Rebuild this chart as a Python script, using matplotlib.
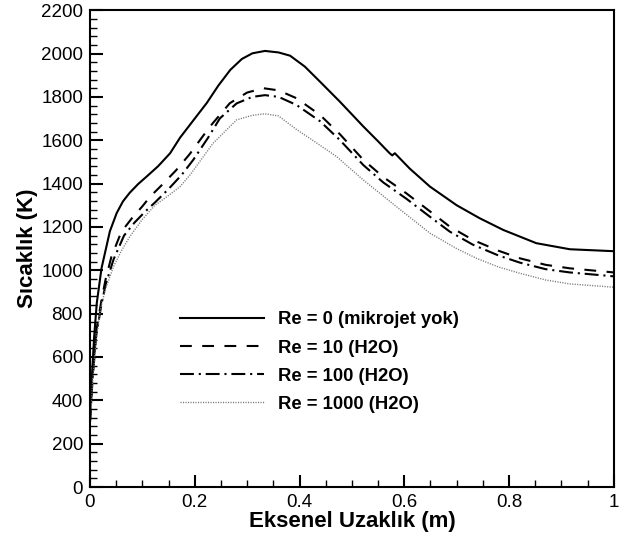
import matplotlib
matplotlib.use("Agg")
import matplotlib.pyplot as plt
from matplotlib.ticker import MultipleLocator, FuncFormatter

plt.rcParams['font.family'] = ['Liberation Sans', 'DejaVu Sans']
plt.rcParams['lines.scale_dashes'] = False

# --- data ---
x_re0 = [0, 0.003, 0.008, 0.013, 0.022, 0.038, 0.051, 0.063, 0.076, 0.092, 0.108, 0.13, 0.153,
         0.172, 0.2, 0.223, 0.245, 0.268, 0.29, 0.31, 0.334, 0.36, 0.382, 0.41, 0.44, 0.477,
         0.522, 0.55, 0.572, 0.577, 0.582, 0.61, 0.649, 0.7, 0.744, 0.789, 0.852, 0.916, 1.0]
t_re0 = [320, 480, 694, 849, 1009, 1180, 1264, 1318, 1358, 1398, 1432, 1480, 1540,
         1612, 1700, 1772, 1852, 1925, 1975, 2001, 2012, 2005, 1990, 1940, 1868, 1778,
         1663, 1595, 1540, 1530, 1540, 1470, 1386, 1300, 1240, 1186, 1125, 1097, 1088]

x_re10 = [0, 0.005, 0.012, 0.022, 0.03, 0.041, 0.06, 0.08, 0.1, 0.115, 0.14, 0.165, 0.19,
          0.229, 0.267, 0.3, 0.331, 0.36, 0.394, 0.439, 0.477, 0.522, 0.56, 0.604, 0.65,
          0.687, 0.731, 0.78, 0.821, 0.87, 0.916, 1.0]
t_re10 = [300, 520, 720, 863, 960, 1063, 1178, 1240, 1295, 1340, 1400, 1463, 1535,
          1663, 1771, 1820, 1840, 1830, 1794, 1717, 1628, 1509, 1430, 1355, 1270,
          1201, 1140, 1090, 1055, 1025, 1009, 990]

x_re100 = [0, 0.005, 0.012, 0.022, 0.03, 0.045, 0.065, 0.085, 0.105, 0.125, 0.15, 0.175, 0.197,
           0.225, 0.248, 0.28, 0.31, 0.334, 0.36, 0.394, 0.439, 0.477, 0.522, 0.56, 0.604,
           0.65, 0.687, 0.731, 0.78, 0.821, 0.87, 0.916, 1.0]
t_re100 = [300, 500, 700, 845, 935, 1050, 1160, 1220, 1270, 1315, 1375, 1440, 1509,
           1610, 1701, 1770, 1800, 1808, 1800, 1763, 1688, 1601, 1485, 1405, 1330,
           1245, 1178, 1118, 1068, 1035, 1005, 990, 972]

x_re1000 = [0, 0.005, 0.012, 0.02, 0.029, 0.045, 0.06, 0.076, 0.1, 0.124, 0.15, 0.172, 0.191,
            0.235, 0.28, 0.31, 0.334, 0.36, 0.394, 0.43, 0.471, 0.52, 0.573, 0.6, 0.649,
            0.7, 0.738, 0.78, 0.821, 0.87, 0.916, 1.0]
t_re1000 = [280, 480, 680, 820, 909, 1017, 1090, 1155, 1235, 1300, 1345, 1386, 1440,
            1586, 1694, 1715, 1722, 1712, 1650, 1592, 1524, 1420, 1317, 1265, 1171,
            1100, 1055, 1015, 986, 955, 937, 922]

labels = ['Re = 0 (mikrojet yok)', 'Re = 10 (H2O)', 'Re = 100 (H2O)', 'Re = 1000 (H2O)']

fig = plt.figure(figsize=(6.27, 5.36), dpi=100)
ax = fig.add_axes([0.1435, 0.0914, 0.8355, 0.8896])

ax.plot(x_re0, t_re0, color='black', lw=1.5, label=labels[0])
ax.plot(x_re10, t_re10, color='black', lw=1.5, dashes=(8.5, 7.5), label=labels[1])
ax.plot(x_re100, t_re100, color='black', lw=1.5, dashes=(10, 3.5, 1.5, 3.5), label=labels[2])
ax.plot(x_re1000, t_re1000, color='#777777', lw=1.0, dashes=(0.8, 1.0), label=labels[3])

ax.set_xlim(0, 1)
ax.set_ylim(0, 2200)
ax.xaxis.set_major_locator(MultipleLocator(0.2))
ax.xaxis.set_minor_locator(MultipleLocator(0.05))
ax.yaxis.set_major_locator(MultipleLocator(200))
ax.yaxis.set_minor_locator(MultipleLocator(40))
ax.xaxis.set_major_formatter(FuncFormatter(lambda v, p: '%g' % round(v, 2)))
ax.tick_params(which='major', direction='in', length=9, width=1.5, labelsize=13.5, pad=5)
ax.tick_params(which='minor', direction='in', length=5, width=1)
for s in ax.spines.values():
    s.set_linewidth(1.5)

ax.set_xlabel('Eksenel Uzaklık (m)', fontsize=16, fontweight='bold', labelpad=0)
ax.set_ylabel('Sıcaklık (K)', fontsize=16, fontweight='bold', labelpad=2)

ax.legend(loc='center left', bbox_to_anchor=(0.155, 0.262), frameon=False,
          handlelength=4.55, handletextpad=0.75, labelspacing=0.6, borderpad=0,
          prop={'weight': 'bold', 'size': 13.3})

fig.savefig('out.png', dpi=100)
